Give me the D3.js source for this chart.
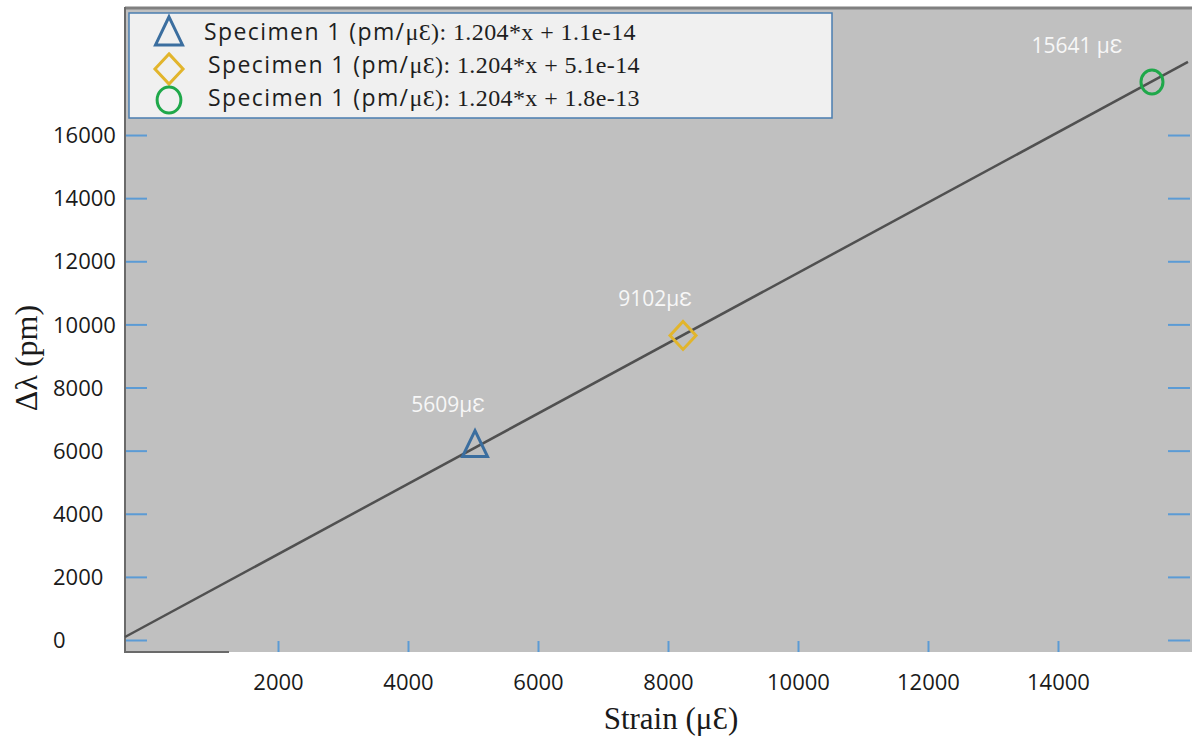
<!DOCTYPE html>
<html><head><meta charset="utf-8">
<script src="https://cdn.jsdelivr.net/npm/d3@7"></script>
<style>body{margin:0;background:#fff}svg{display:block}</style>
</head><body>
<svg id="c" width="1192" height="736"></svg>
<script>
// ---- data ----
const yTicks = [0, 2000, 4000, 6000, 8000, 10000, 12000, 14000, 16000];
const xTicks = [2000, 4000, 6000, 8000, 10000, 12000, 14000];
const specimenNames = ["Specimen 1", "Specimen 1", "Specimen 1"];
const slopes = ["1.204", "1.204", "1.204"];
const intercepts = ["1.1e-14", "5.1e-14", "1.8e-13"];
const pointStrain = [5031, 8231, 15446];
const pointShift = [6159, 9651, 17683];
const pointLabels = ["5609\u03bc\u0190", "9102\u03bc\u0190", "15641 \u03bc\u0190"];
const fitStrain = [-354, 16000];
const fitShift = [95, 18317];

// ---- layout / style ----
const L = 125, R = 1190, T = 8, B = 652;
const colors = ["#3b6e9f", "#e2b52c", "#1fa84a"];
const shapes = ["triangle", "diamond", "circle"];
const labelOffsets = [[-27, -41], [-28, -37], [-75, -36]];

const svg = d3.select("#c");
const x = d3.scaleLinear().domain([-354, 16031]).range([L, R]);
const y = d3.scaleLinear().domain([-380, 20025]).range([B, T]);

function drawShape(g, s, c, big) {
  const k = big ? 1.08 : 1;
  if (s === "circle") {
    g.append("ellipse").attr("rx", 11 * k).attr("ry", 12 * k).attr("fill", "none")
      .attr("stroke", c).attr("stroke-width", 3);
  } else {
    const d = s === "triangle"
      ? `M0,${-15 * k}L${12.5 * k},${11 * k}L${-12.5 * k},${11 * k}Z`
      : `M0,${-14 * k}L${13 * k},0L0,${14 * k}L${-13 * k},0Z`;
    g.append("path").attr("d", d).attr("fill", "none")
      .attr("stroke", c).attr("stroke-width", 3).attr("stroke-linejoin", "miter");
  }
}

// plot background
svg.append("rect").attr("x", L).attr("y", T).attr("width", R - L + 2).attr("height", B - T).attr("fill", "#c0c0c0");

// borders
svg.append("line").attr("x1", L).attr("x2", 1192).attr("y1", T).attr("y2", T).attr("stroke", "#808080").attr("stroke-width", 3);
svg.append("line").attr("x1", L).attr("x2", L).attr("y1", T - 1).attr("y2", B + 1).attr("stroke", "#6a6a6a").attr("stroke-width", 2);
svg.append("line").attr("x1", L).attr("x2", 229).attr("y1", B).attr("y2", B).attr("stroke", "#6a6a6a").attr("stroke-width", 2);

// y axis (left) - ticks inside, labels left-aligned
const yAx = svg.append("g").attr("transform", `translate(${L + 1},0)`)
  .call(d3.axisLeft(y).tickValues(yTicks).tickSizeInner(-21).tickSizeOuter(0).tickFormat(d3.format("d")));
yAx.select(".domain").remove();
yAx.selectAll(".tick line").attr("stroke", "#5b9bd5").attr("stroke-width", 2);
yAx.selectAll(".tick text").attr("x", 53 - L - 1).attr("text-anchor", "start").attr("dy", "0.35em")
  .attr("font-family", "'Open Sans', sans-serif").attr("font-size", 22).attr("fill", "#1a1a1a");

// y axis (right) ticks only
const yAxR = svg.append("g").attr("transform", `translate(${R},0)`)
  .call(d3.axisRight(y).tickValues(yTicks).tickSizeInner(-22).tickSizeOuter(0).tickFormat(""));
yAxR.select(".domain").remove();
yAxR.selectAll(".tick line").attr("stroke", "#5b9bd5").attr("stroke-width", 2);

// x axis
const xAx = svg.append("g").attr("transform", `translate(0,${B})`)
  .call(d3.axisBottom(x).tickValues(xTicks).tickSizeInner(-11).tickSizeOuter(0).tickFormat(d3.format("d")));
xAx.select(".domain").remove();
xAx.selectAll(".tick line").attr("stroke", "#5b9bd5").attr("stroke-width", 2);
xAx.selectAll(".tick text").attr("y", 30).attr("dy", "0.35em")
  .attr("font-family", "'Open Sans', sans-serif").attr("font-size", 22).attr("fill", "#1a1a1a");

// fit line
const fit = fitStrain.map((v, i) => [v, fitShift[i]]);
svg.append("path").datum(fit)
  .attr("d", d3.line().x(d => x(d[0])).y(d => y(d[1])))
  .attr("stroke", "#505050").attr("stroke-width", 2.5).attr("fill", "none");

// points
pointStrain.forEach((v, i) => {
  const g = svg.append("g").attr("transform", `translate(${x(v)},${y(pointShift[i])})`);
  drawShape(g, shapes[i], colors[i], false);
  svg.append("text").attr("x", x(v) + labelOffsets[i][0]).attr("y", y(pointShift[i]) + labelOffsets[i][1])
    .attr("text-anchor", "middle").attr("dy", "0.35em")
    .attr("font-family", "'Open Sans', sans-serif").attr("font-size", 21).attr("fill", "#f7f7f7")
    .text(pointLabels[i]);
});

// legend
svg.append("rect").attr("x", 129).attr("y", 13).attr("width", 703).attr("height", 105)
  .attr("fill", "#f0f0f0").attr("stroke", "#4a7db0").attr("stroke-width", 1.5);
const legY = [33, 69, 100];
const legTextY = [34, 67, 100];
const legTextX = [204, 208, 208];
specimenNames.forEach((n, i) => {
  const g = svg.append("g").attr("transform", `translate(169,${legY[i]})`);
  drawShape(g, shapes[i], colors[i], true);
  const t = svg.append("text").attr("x", legTextX[i]).attr("y", legTextY[i]).attr("dy", "0.35em")
    .attr("fill", "#1e1e1e");
  t.append("tspan").attr("font-family", "'Open Sans', sans-serif").attr("font-size", 23)
    .attr("letter-spacing", 1.4).text(n + " (pm/");
  t.append("tspan").attr("font-family", "'Liberation Serif', serif").attr("font-size", 24)
    .attr("letter-spacing", 0.4)
    .text("\u03bc\u0190): " + slopes[i] + "*x + " + intercepts[i]);
});

// axis titles
svg.append("text").attr("x", 671).attr("y", 718).attr("text-anchor", "middle").attr("dy", "0.35em")
  .attr("font-family", "'Liberation Serif', serif").attr("font-size", 31).attr("fill", "#1a1a1a")
  .text("Strain (\u03bc\u0190)");
svg.append("text").attr("transform", "translate(26,358) rotate(-90)").attr("text-anchor", "middle").attr("dy", "0.35em")
  .attr("font-family", "'Liberation Serif', serif").attr("font-size", 32).attr("fill", "#1a1a1a")
  .text("\u0394\u03bb (pm)");
</script>
</body></html>
